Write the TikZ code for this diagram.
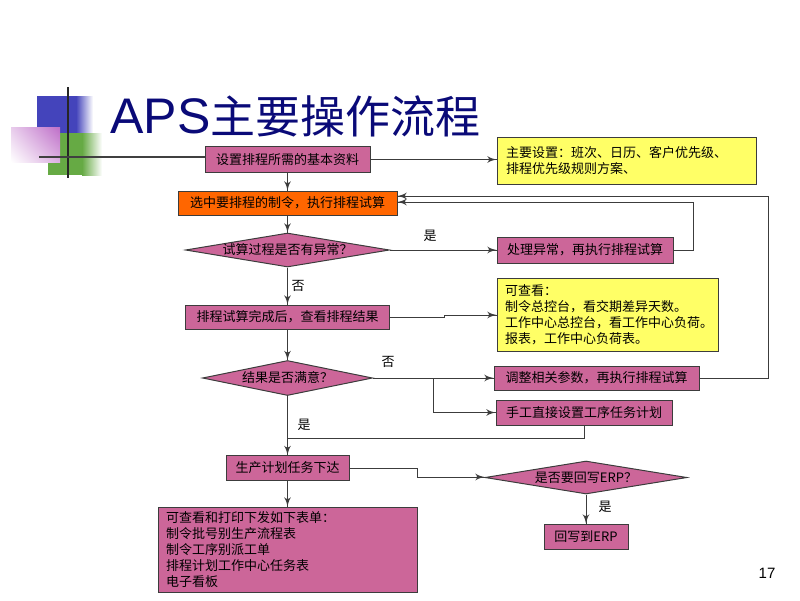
\documentclass[tikz,border=0pt]{standalone}
\usepackage{fontspec}
\setmainfont{Liberation Sans}
\newfontfamily\cjk{Noto Sans CJK SC}
\usetikzlibrary{arrows}
\usetikzlibrary{decorations.markings}
\usetikzlibrary{shapes.geometric}
\usetikzlibrary{shadings}
\tikzset{->/.style = {decoration={markings,
                                  mark=at position 1 with {\arrow[scale=1.6]{latex'}}},
                      postaction={decorate}}}
\definecolor{mpink}{RGB}{204,102,153}
\definecolor{myellow}{RGB}{255,255,102}
\definecolor{morange}{RGB}{255,102,0}
\definecolor{mnavy}{RGB}{10,10,120}
\definecolor{mline}{RGB}{60,60,60}
\definecolor{mblue}{RGB}{68,68,187}
\definecolor{mgreen}{RGB}{102,170,68}
\definecolor{mviolet}{RGB}{190,110,200}
\tikzset{box/.style = {draw = mline, fill = mpink, text = black, inner sep = 0pt,
                       font = \cjk\fontsize{13}{16}\selectfont},
         note/.style = {draw = mline, fill = myellow, text = black, inner xsep = 9pt,
                        inner ysep = 0pt, align = left,
                        font = \cjk\fontsize{13}{16}\selectfont},
         dia/.style = {box, diamond, aspect = 6, inner sep = -1pt},
         lbl/.style = {text = black, inner sep = 0pt, font = \cjk\fontsize{13}{16}\selectfont}}

\begin{document}
\begin{tikzpicture}[x = 1pt, y = -1pt, line width = 1pt, mline]
      \useasboundingbox (0, 0) rectangle (800, 600);
      \fill [mblue] (37, 96) rectangle (76, 133);
      \shade [left color = mblue, right color = white] (76, 96) rectangle (93, 133);
      \fill [mgreen] (48, 133) rectangle (82, 175);
      \shade [left color = mgreen, right color = white] (82, 133) rectangle (102, 175);
      \shade [upper right = mviolet, upper left = mviolet!35, lower right = mviolet!55,
              lower left = white] (11, 127) rectangle (60, 162);
      \draw [line width = 2pt, black!85] (68, 87) -- (68, 178);
      \node [anchor = base west, inner sep = 0pt, text = mnavy] (title) at (110, 133)
            {\fontsize{50}{54}\selectfont APS{\cjk\fontsize{45}{54}\selectfont 主要操作流程}};

      \node [box, minimum width = 165pt, minimum height = 26pt] (set) at (287.5, 159.5) {设置排程所需的基本资料};
      \node [note, minimum width = 259pt, minimum height = 47pt, text width = 241pt] (basic) at (626.5, 160.5)
            {主要设置：班次、日历、客户优先级、\\排程优先级规则方案、};
      \node [box, fill = morange, minimum width = 219pt, minimum height = 24pt] (main) at (287.5, 203) {选中要排程的制令，执行排程试算};
      \node [dia, minimum width = 204pt, minimum height = 34pt] (check) at (287.5, 250) {试算过程是否有异常？};
      \node [box, minimum width = 176pt, minimum height = 26pt] (fix) at (585, 250) {处理异常，再执行排程试算};
      \node [box, minimum width = 204pt, minimum height = 24pt] (result) at (287.5, 317) {排程试算完成后，查看排程结果};
      \node [note, minimum width = 221pt, minimum height = 73pt, text width = 205pt, inner xsep = 8pt] (view) at (607.5, 314.5)
            {可查看：\\制令总控台，看交期差异天数。\\工作中心总控台，看工作中心负荷。\\报表，工作中心负荷表。};
      \node [dia, minimum width = 170pt, minimum height = 35pt] (ok) at (287.5, 378) {结果是否满意？};
      \node [box, minimum width = 205pt, minimum height = 24pt] (adjust) at (596.5, 378) {调整相关参数，再执行排程试算};
      \node [box, minimum width = 176pt, minimum height = 25pt] (manual) at (584, 412.5) {手工直接设置工序任务计划};
      \node [box, minimum width = 123pt, minimum height = 25pt] (issue) at (287.5, 468) {生产计划任务下达};
      \node [dia, minimum width = 202pt, minimum height = 33pt] (erpq) at (586, 477.5) {是否要回写ERP？};
      \node [box, minimum width = 84pt, minimum height = 25pt] (erp) at (586, 536.5) {回写到ERP};
      \node [note, fill = mpink, minimum width = 259pt, minimum height = 85pt, text width = 243pt, inner xsep = 8pt] (forms) at (287.5, 549.5)
            {可查看和打印下发如下表单：\\制令批号别生产流程表\\制令工序别派工单\\排程计划工作中心任务表\\电子看板};

      \node [lbl] (yes1) at (430, 236) {是};
      \node [lbl] (no1) at (298, 286) {否};
      \node [lbl] (no2) at (388, 362) {否};
      \node [lbl] (yes2) at (304, 425) {是};
      \node [lbl] (yes3) at (605, 507) {是};
      \node [text = black, font = \fontsize{15}{18}\selectfont] (page) at (767, 573) {17};

      \coordinate (deco) at (39, 157);
      \draw [line width = 2pt, black!75] (deco) -- (deco -| set.west);
      \draw [->] (set) -- (main);
      \draw [->] (set.east) -- (set.east -| basic.west);
      \draw [->] (main) -- (check);
      \draw [->] (check.east) -- (fix.west);
      \draw [->] (fix.east) -- ++(20pt, 0pt) |- ([yshift = 1pt] main.east);
      \draw [->] (adjust.east) -- ++(69pt, 0pt) |- ([yshift = 7pt] main.east);
      \draw [->] (check) -- (result);
      \draw [->] (result.east) -- ++(54pt, 0pt) -- ++(0pt, 2pt) coordinate (jog) -- (jog -| view.west);
      \draw [->] (result) -- (ok);
      \draw [->] (ok.east) -- (adjust.west);
      \coordinate (split) at (433, 378);
      \draw [->] (split) |- (manual.west);
      \draw (manual.south) -- ++(0pt, -13pt) coordinate (back) -- (back -| ok.south);
      \draw [->] (ok) -- (issue);
      \draw [->] (issue) -- (forms);
      \draw [->] (issue.east) -- ++(68pt, 0pt) -- ++(0pt, -9pt) coordinate (turn) -- (turn -| erpq.west);
      \draw [->] (erpq) -- (erp);
    \end{tikzpicture}
\end{document}
